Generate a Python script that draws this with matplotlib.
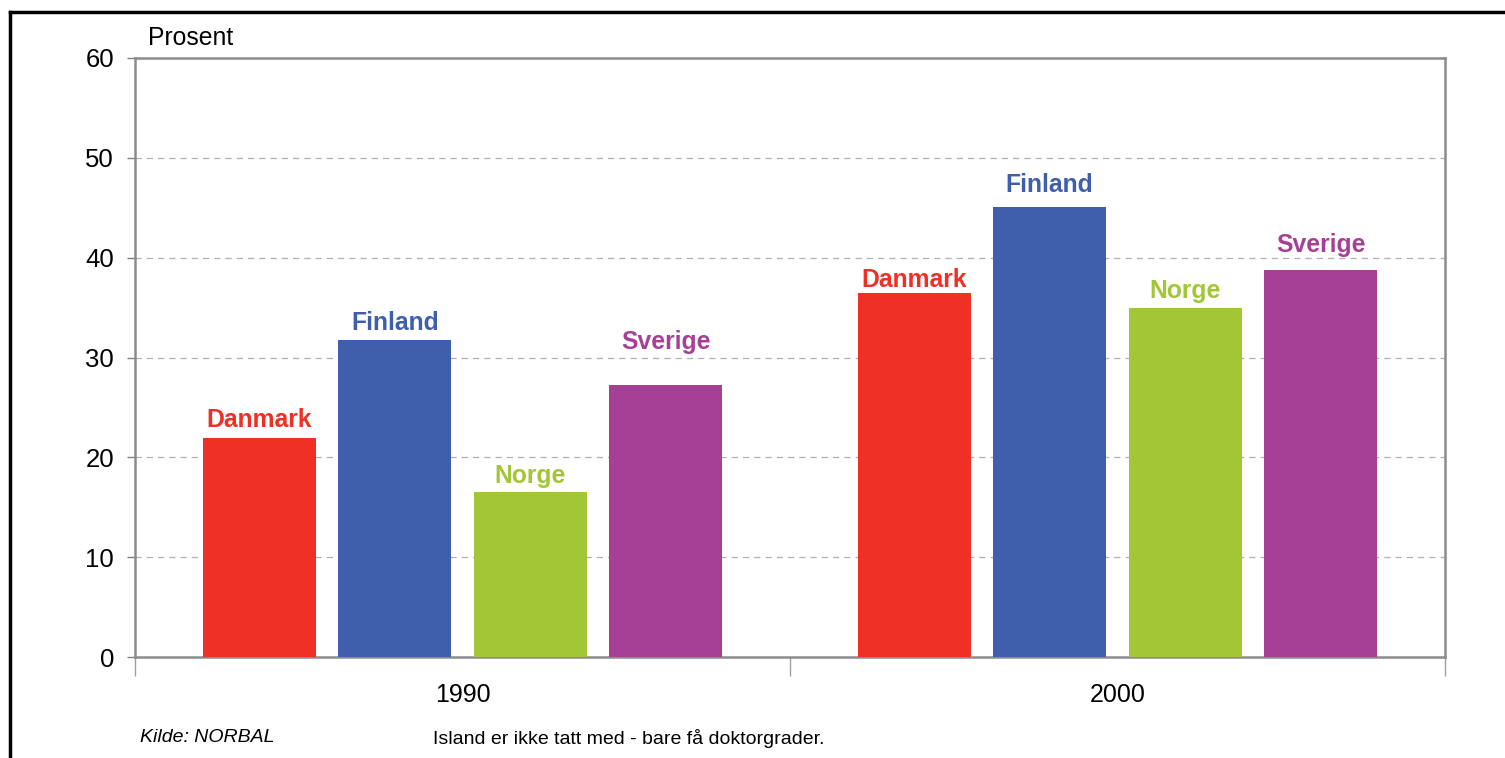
import matplotlib
matplotlib.use('Agg')
import matplotlib.pyplot as plt
from matplotlib.lines import Line2D
import numpy as np

plt.rcParams['font.family'] = ['Liberation Sans', 'DejaVu Sans']

# data
years = ['1990', '2000']
countries = ['Danmark', 'Finland', 'Norge', 'Sverige']
values = {
    'Danmark': [21.9, 36.5],
    'Finland': [31.8, 45.1],
    'Norge': [16.5, 35.0],
    'Sverige': [27.2, 38.8],
}
# where each name label sits (baseline, in percent units) - placed by hand in the original
label_heights = {
    'Danmark': [23.0, 37.1],
    'Finland': [32.8, 46.6],
    'Norge': [17.4, 36.0],
    'Sverige': [30.9, 40.6],
}
colors = ['#ee3124', '#3f5eab', '#a2c636', '#a64097']

fig = plt.figure(figsize=(15.05, 7.58), dpi=100)
ax = fig.add_axes([0.0897, 0.1332, 0.8704, 0.7903])

x = np.arange(len(years))
step = 0.207
width = 0.1725
for i, (c, col) in enumerate(zip(countries, colors)):
    pos = x + (i - 1.5) * step
    ax.bar(pos, values[c], width=width, color=col, zorder=3)
    for p, ly in zip(pos, label_heights[c]):
        ax.text(p, ly, c, ha='center', va='baseline', color=col,
                fontsize=17.8, fontweight='bold')

ax.set_xlim(-0.5, 1.5)
ax.set_ylim(0, 60)
ax.set_yticks(range(0, 61, 10))
ax.yaxis.grid(True, linestyle=(0, (5, 4)), color='#b0b0b0', linewidth=0.9, zorder=0)
ax.tick_params(axis='y', labelsize=18.5, length=6, color='#808080', width=1, pad=9)

# category ticks at group boundaries, labels at the centres
ax.set_xticks([-0.5, 0.5, 1.5])
ax.set_xticklabels([])
ax.set_xticks(x, minor=True)
ax.set_xticklabels(years, minor=True)
ax.tick_params(axis='x', which='major', length=14, color='#a0a0a0', width=1)
ax.tick_params(axis='x', which='minor', length=0, labelsize=18, pad=19)

for s in ax.spines.values():
    s.set_color('#8c8c8c')
    s.set_linewidth(1.8)

fig.text(148 / 1505, 1 - 38 / 758, 'Prosent', fontsize=17.8, va='center', ha='left')
fig.text(140 / 1505, 1 - 738 / 758, 'Kilde: NORBAL', fontsize=14, style='italic', va='center')
fig.text(433 / 1505, 1 - 738 / 758, 'Island er ikke tatt med - bare få doktorgrader.', fontsize=14, va='center')

# outer frame (only top and left visible in the original)
fig.add_artist(Line2D([10 / 1505, 1.0], [1 - 12 / 758, 1 - 12 / 758], color='black', linewidth=2.5,
                      transform=fig.transFigure))
fig.add_artist(Line2D([10 / 1505, 10 / 1505], [0, 1 - 12 / 758], color='black', linewidth=2.5,
                      transform=fig.transFigure))

fig.savefig('out.png', dpi=100)
